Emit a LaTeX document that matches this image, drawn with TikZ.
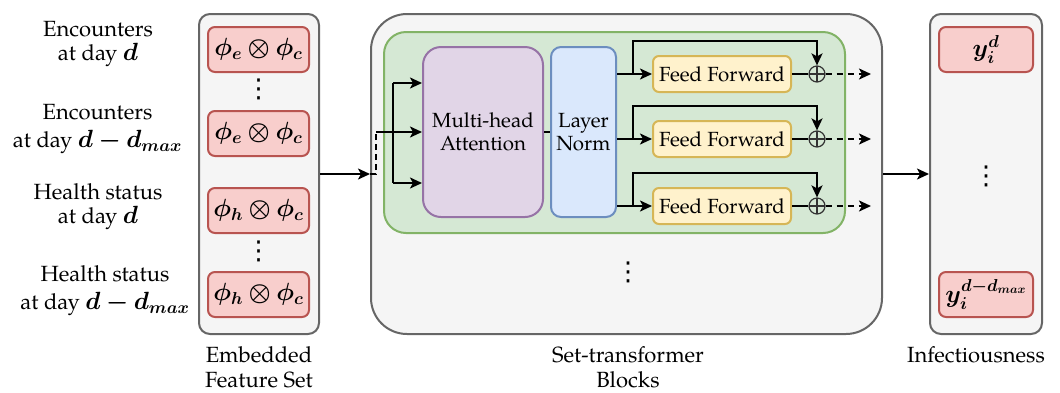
\documentclass[tikz,border=0pt]{standalone}
\usepackage{amsmath,bm}
\usepackage{fontspec}
\setmainfont{TeX Gyre Pagella}
\newfontfamily\dotsfont{DejaVu Sans}
\usetikzlibrary{arrows.meta,calc}

\definecolor{panelfill}{HTML}{F5F5F5}
\definecolor{paneldraw}{HTML}{666666}
\definecolor{redfill}{HTML}{F8CECC}
\definecolor{reddraw}{HTML}{B85450}
\definecolor{greenfill}{HTML}{D5E8D4}
\definecolor{greendraw}{HTML}{82B366}
\definecolor{purplefill}{HTML}{E1D5E7}
\definecolor{purpledraw}{HTML}{9673A6}
\definecolor{bluefill}{HTML}{DAE8FC}
\definecolor{bluedraw}{HTML}{6C8EBF}
\definecolor{yellowfill}{HTML}{FFF2CC}
\definecolor{yellowdraw}{HTML}{D6B656}

\newcommand{\mth}[1]{{\fontsize{24.5}{24}\selectfont$\bm{#1}$}}

\tikzset{
  bigtext/.style={font=\fontsize{22}{24}\selectfont, align=center, inner sep=0pt},
  widetext/.style={font=\fontsize{22}{28}\selectfont, align=center, inner sep=0pt},
  captext/.style={font=\fontsize{22}{25}\selectfont, align=center, inner sep=0pt},
  smalltext/.style={font=\fontsize{20.5}{23}\selectfont, align=center, inner sep=0pt},
  dotsnode/.style={inner sep=0pt, font=\dotsfont\fontsize{26}{26}\selectfont},
  panel/.style={draw=paneldraw, fill=panelfill, line width=2pt, rounded corners=11pt},
  featbox/.style={draw=reddraw, fill=redfill, line width=2pt, rounded corners=7pt,
    minimum height=45pt, inner sep=0pt, font=\fontsize{25.5}{26}\selectfont},
  blockbox/.style={draw=greendraw, fill=greenfill, line width=2pt, rounded corners=22pt},
  attbox/.style={draw=purpledraw, fill=purplefill, line width=2pt, rounded corners=18pt,
    minimum width=120pt, minimum height=170pt, smalltext},
  normbox/.style={draw=bluedraw, fill=bluefill, line width=2pt, rounded corners=10pt,
    minimum width=65pt, minimum height=170pt, smalltext},
  ffbox/.style={draw=yellowdraw, fill=yellowfill, line width=2pt, rounded corners=6pt,
    minimum width=138pt, minimum height=36pt, smalltext},
  sumnode/.style={circle, draw=black!80, line width=1.2pt, minimum size=16pt, inner sep=0pt,
    path picture={\draw[black!80, line width=1.2pt]
      (path picture bounding box.north) -- (path picture bounding box.south)
      (path picture bounding box.west) -- (path picture bounding box.east);}},
  conn/.style={line width=2pt},
  arr/.style={line width=2pt, -{Stealth[length=12pt, width=11pt, inset=3pt]}},
  darr/.style={line width=2pt, dash pattern=on 6pt off 5pt, -{Stealth[length=12pt, width=11pt, inset=3pt]}},
}

\begin{document}
\begin{tikzpicture}[x=1pt, y=-1pt]
\useasboundingbox (0,0) rectangle (1060,392);

% ---------- input labels ----------
\node[bigtext] (l1) at (98,43.5) {Encounters\\at day \mth{d}};
\node[widetext] (l2) at (97.5,129) {Encounters\\at day \mth{d-d_{max}}};
\node[bigtext] (l3) at (98,207) {Health status\\at day \mth{d}};
\node[widetext] (l4) at (105,291) {Health status\\at day \mth{d-d_{max}}};

% ---------- embedded feature set ----------
\node[panel, minimum width=120pt, minimum height=320pt] (emb) at (259,174) {};
\node[featbox, minimum width=101pt] (f1) at (258.5,49.5) {$\bm{\phi_e\otimes\phi_c}$};
\node[featbox, minimum width=101pt] (f2) at (258.5,133.5) {$\bm{\phi_e\otimes\phi_c}$};
\node[featbox, minimum width=101pt] (f3) at (258.5,210.5) {$\bm{\phi_h\otimes\phi_c}$};
\node[featbox, minimum width=101pt] (f4) at (258.5,294.5) {$\bm{\phi_h\otimes\phi_c}$};
\node[dotsnode] (fd1) at (258.5,89) {⋮};
\node[dotsnode] (fd2) at (258.5,251) {⋮};
\node[captext] (embcap) at (259,367) {Embedded\\Feature Set};

% ---------- set-transformer blocks ----------
\node[panel, rounded corners=36pt, minimum width=511pt, minimum height=320pt] (blocks) at (626.5,174) {};
\node[blockbox, minimum width=461pt, minimum height=201pt] (blk) at (614.5,132.5) {};
\node[attbox] (att) at (483,132) {Multi-head\\Attention};
\node[normbox] (ln) at (583.5,132) {Layer\\Norm};
\node[ffbox] (ff1) at (722,74) {Feed Forward};
\node[ffbox] (ff2) at (722,139) {Feed Forward};
\node[ffbox] (ff3) at (722,206) {Feed Forward};
\node[sumnode] (s1) at (817,74) {};
\node[sumnode] (s2) at (817,139) {};
\node[sumnode] (s3) at (817,206) {};
\coordinate (o1) at (871,74);
\coordinate (o2) at (871,139);
\coordinate (o3) at (871,206);
\node[dotsnode] (bd) at (628,272) {⋮};
\node[captext] (blkcap) at (628,367) {Set-transformer\\Blocks};

% ---------- infectiousness ----------
\node[panel, minimum width=112pt, minimum height=320pt] (out) at (986,174) {};
\node[featbox, minimum width=94pt] (y1) at (986,49.5) {$\bm{y_i^{d}}$};
\node[featbox, minimum width=94pt] (y2) at (986,294.5) {$\bm{y_i^{d-d_{max}}}$};
\node[dotsnode] (yd) at (986,176) {⋮};
\node[captext] (outcap) at (976,355) {Infectiousness};

% ---------- connectors ----------
\draw[arr] (emb.east) -- (blocks.west);
\coordinate (din) at (376,132);
\draw[conn, dash pattern=on 6pt off 4pt] (blocks.west) -| (din);
\draw[arr] (din) -- (att.west);
\coordinate (brT) at (393,83);
\coordinate (brB) at (393,183);
\draw[conn] (brT) -- (brB);
\draw[arr] (brT) -- (att.west |- brT);
\draw[arr] (brB) -- (att.west |- brB);
\draw[conn] (att.east) -- (ln.west);

\foreach \i in {1,2,3}{
  \draw[arr] (ln.east |- ff\i) -- (ff\i.west);
  \draw[arr] ($(ln.east |- ff\i)!0.46!(ff\i.west)$) -- ++(0,-33) -| (s\i.north);
  \draw[conn] (ff\i.east) -- (s\i.west);
  \draw[darr] (s\i.east) -- (o\i);
}

\draw[arr] (blocks.east) -- (out.west);
\end{tikzpicture}
\end{document}
